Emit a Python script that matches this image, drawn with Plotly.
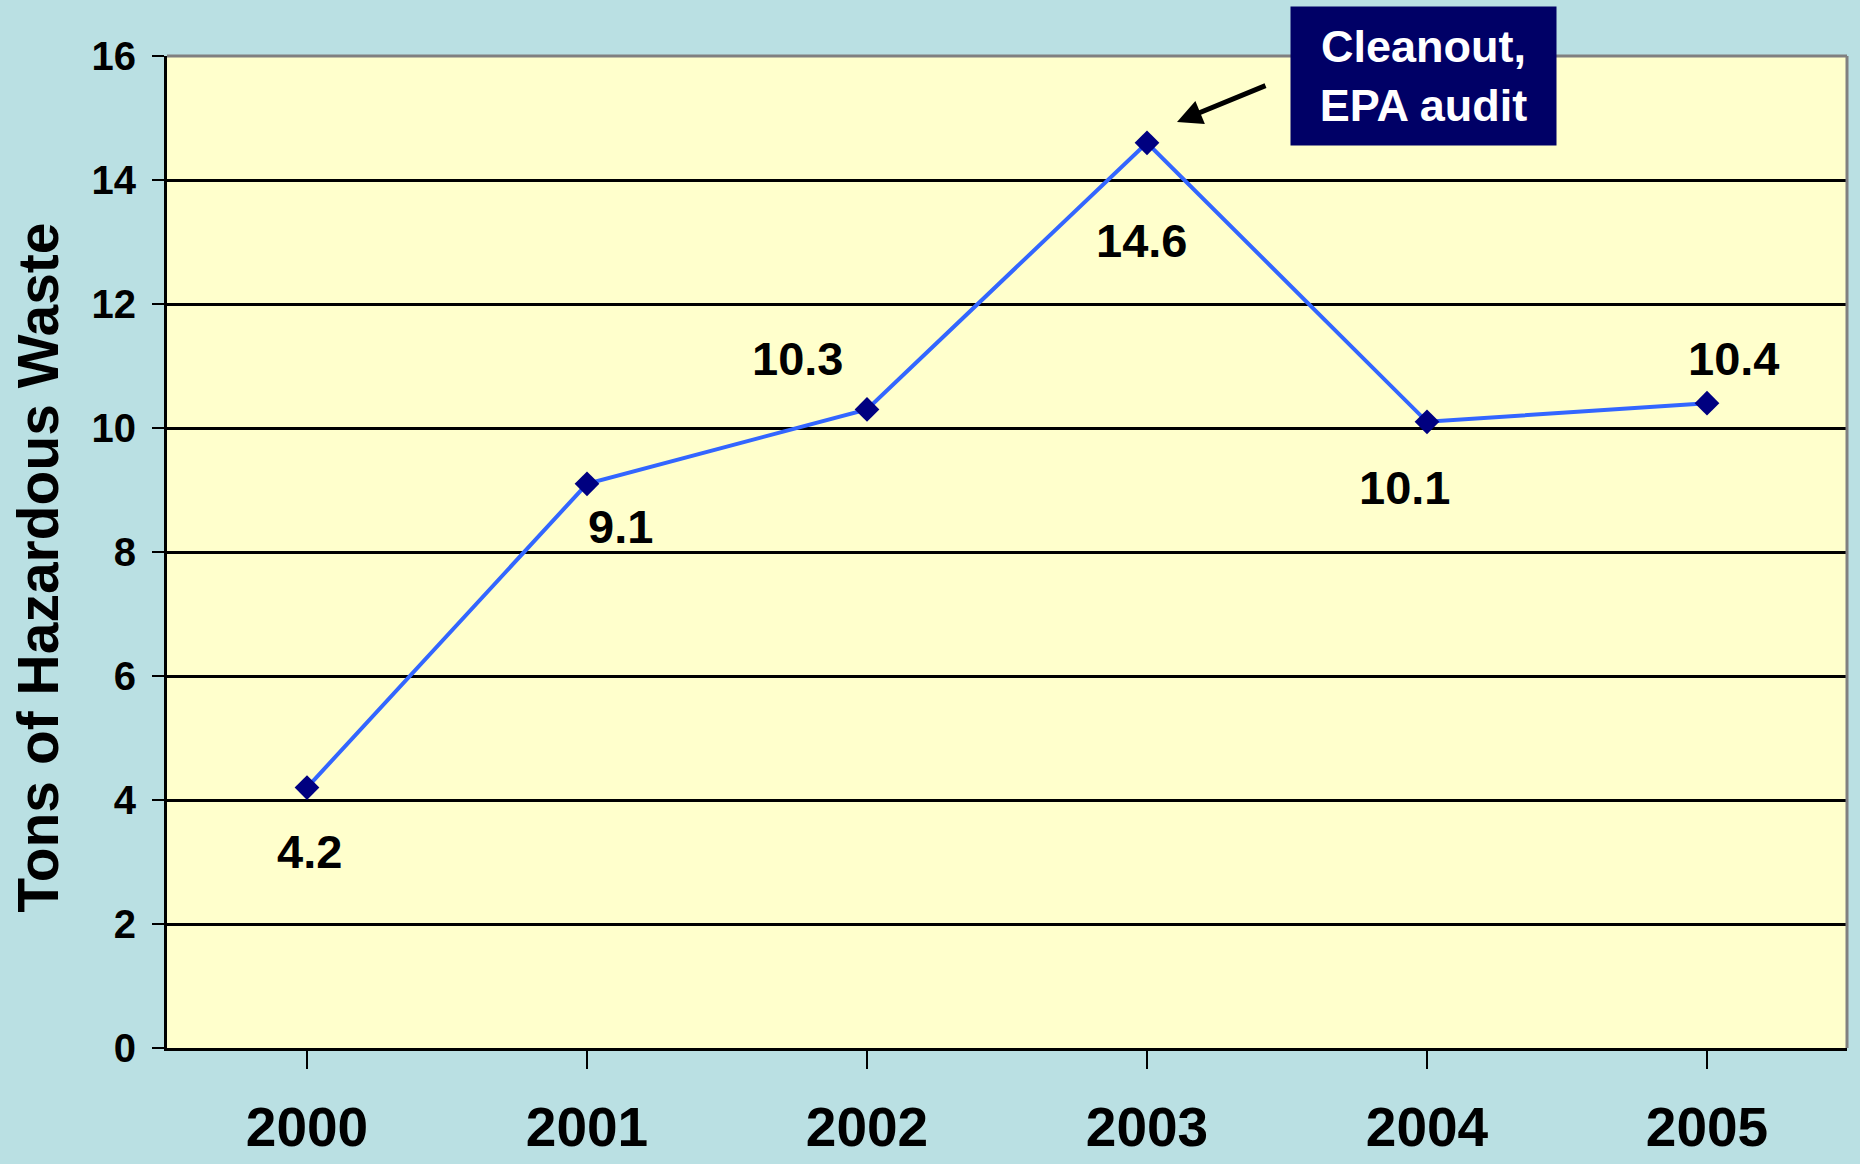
import plotly.graph_objects as go

# data
years = [2000, 2001, 2002, 2003, 2004, 2005]
tons = [4.2, 9.1, 10.3, 14.6, 10.1, 10.4]
y_ticks = [0, 2, 4, 6, 8, 10, 12, 14, 16]

# label offsets (pixels) relative to each point
label_dx = [2, 33, -70, -6, -23, 26]
label_dy = [64, 43, -51, 98, 66, -45]

FONT = "Arial, Liberation Sans, sans-serif"

fig = go.Figure()

fig.add_trace(go.Scatter(
    x=years,
    y=tons,
    mode="lines+markers",
    line=dict(color="#3366FF", width=4),
    marker=dict(symbol="diamond", size=19, color="#000080"),
    showlegend=False,
    hoverinfo="x+y",
))

# data labels
for x, y, dx, dy in zip(years, tons, label_dx, label_dy):
    fig.add_annotation(
        x=x, y=y, text=f"{y:.1f}", showarrow=False,
        xshift=dx, yshift=-dy,
        font=dict(family=FONT, size=47, color="black", weight="bold"),
    )

# callout box
fig.add_annotation(
    xref="paper", yref="paper", x=(1423 - 167) / 1680, y=(1048 - 76) / 992,
    xanchor="center", yanchor="middle",
    text="Cleanout,<br>EPA audit", showarrow=False,
    width=263, height=136, bgcolor="#000066", align="center",
    font=dict(family=FONT, size=45, color="white", weight="bold"),
)

# arrow pointing to the 2003 peak
fig.add_annotation(
    xref="paper", yref="paper", x=(1177 - 167) / 1680, y=(1048 - 122) / 992,
    text="", showarrow=True, ax=90, ay=-37,
    arrowhead=2, arrowsize=1, arrowwidth=5, arrowcolor="black",
)

# y axis title
fig.add_annotation(
    xref="paper", yref="paper", x=(38 - 167) / 1680, y=0.484,
    xanchor="center", yanchor="middle",
    text="Tons of Hazardous Waste", showarrow=False, textangle=-90,
    font=dict(family=FONT, size=57, color="black", weight="bold"),
)

# gray top and right border of the plot area
fig.add_shape(type="line", xref="paper", yref="paper", x0=0, x1=1, y0=1, y1=1,
              line=dict(color="#808080", width=3), layer="above")
fig.add_shape(type="line", xref="paper", yref="paper", x0=1, x1=1, y0=0, y1=1,
              line=dict(color="#808080", width=3), layer="above")

fig.update_xaxes(
    range=[1999.5, 2005.5],
    tickvals=years,
    ticktext=[str(y) for y in years],
    ticks="outside", ticklen=18, tickwidth=2, tickcolor="black",
    ticklabelstandoff=11,
    showgrid=False, zeroline=False, automargin=False,
    showline=True, linecolor="black", linewidth=3,
    tickfont=dict(family=FONT, size=55, color="black", weight="bold"),
)
fig.update_yaxes(
    range=[0, 16],
    tickvals=y_ticks,
    ticks="outside", ticklen=12, tickwidth=2, tickcolor="black",
    ticklabelstandoff=8,
    showgrid=True, gridcolor="black", gridwidth=2.5,
    zeroline=False, automargin=False,
    showline=True, linecolor="black", linewidth=3,
    tickfont=dict(family=FONT, size=40, color="black", weight="bold"),
)

fig.update_layout(
    width=1860, height=1164,
    margin=dict(l=167, r=13, t=56, b=116),
    paper_bgcolor="#BAE0E3",
    plot_bgcolor="#FFFFCC",
    showlegend=False,
)

fig.write_html("out.html", config={"displayModeBar": False},
               post_script="document.body.style.margin='0';")
